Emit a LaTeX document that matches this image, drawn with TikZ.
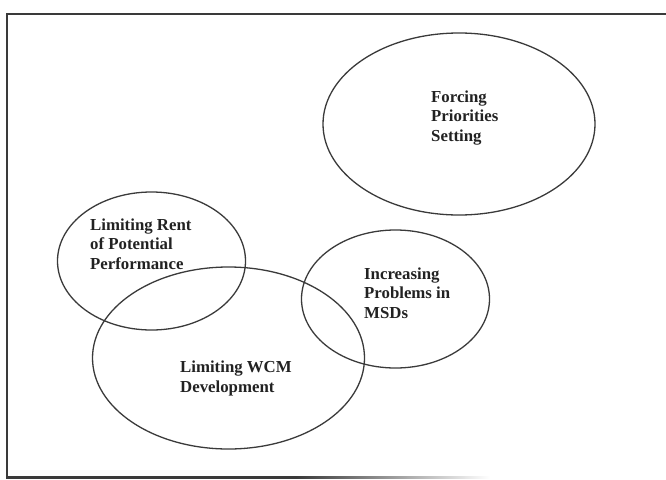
\documentclass[tikz,border=0pt]{standalone}
\usepackage{fontspec}
\setmainfont{Liberation Serif}
\usetikzlibrary{shapes.geometric}
\definecolor{inkline}{HTML}{3A3A3A}
\definecolor{inktext}{HTML}{222222}
% bottom edge: solid for most of its length, then fading out
\pgfdeclarehorizontalshading{edgefade}{100bp}{%
  color(0bp)=(inkline); color(25bp)=(inkline); color(55bp)=(inkline);
  color(75bp)=(white); color(100bp)=(white)}
\tikzset{
  bigoval/.style={ellipse, draw=inkline, line width=1.3pt, inner sep=0pt,
    minimum width=272pt, minimum height=182pt},
  smalloval/.style={ellipse, draw=inkline, line width=1.3pt, inner sep=0pt,
    minimum width=188pt, minimum height=138pt},
  label/.style={anchor=west, inner sep=0pt, align=left, text=inktext,
    font=\fontsize{16.8pt}{19.4pt}\selectfont\bfseries},
  frameline/.style={draw=inkline, line width=2pt}
}
\begin{document}
\begin{tikzpicture}[x=1pt,y=-1pt]
  \useasboundingbox (0,0) rectangle (666,479);
  % open frame: top and left edges
  \coordinate (tl) at (7,14);
  \coordinate (tr) at (668,14);
  \coordinate (bl) at (7,477);
  \draw[frameline] (tr) -- (tl) -- (bl);
  % bottom edge
  \shade[shading=edgefade] (6,476) rectangle (490,478);

  % ovals
  \node[bigoval]   (forcing) at (459,124) {};
  \node[smalloval] (rent)    at (151.5,261) {};
  \node[smalloval] (msd)     at (395.5,299) {};
  \node[bigoval]   (wcm)     at (228.5,358) {};

  % labels
  \node[label] (forcingtxt) at (431,118)   {Forcing\\Priorities\\Setting};
  \node[label] (renttxt)    at (90,244)    {Limiting Rent\\of Potential\\Performance};
  \node[label] (msdtxt)     at (364,293)   {Increasing\\Problems in\\MSDs};
  \node[label] (wcmtxt)     at (180,378.5) {Limiting WCM\\Development};
\end{tikzpicture}
\end{document}
